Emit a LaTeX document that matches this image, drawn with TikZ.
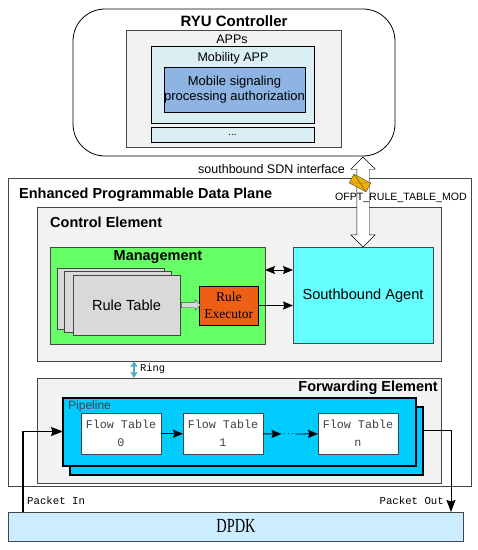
\documentclass[tikz,border=0pt]{standalone}
\usepackage{fontspec}
\setmainfont{Liberation Sans}
\setmonofont{Liberation Mono}
\newfontfamily\execfont{Liberation Serif}
\usepackage{tikz}
\usetikzlibrary{positioning,arrows.meta,calc,shapes.arrows}
\definecolor{appgray}{RGB}{242,242,242}
\definecolor{edgegray}{RGB}{70,70,70}
\definecolor{mobfill}{RGB}{218,238,243}
\definecolor{authfill}{RGB}{142,180,227}
\definecolor{mgmtgreen}{RGB}{102,255,102}
\definecolor{agentcyan}{RGB}{102,255,255}
\definecolor{rulegray}{RGB}{217,217,217}
\definecolor{execorange}{RGB}{236,95,20}
\definecolor{pipeblue}{RGB}{0,204,255}
\definecolor{dpdkblue}{RGB}{204,236,255}
\definecolor{ringblue}{RGB}{75,172,198}
\definecolor{mailgold}{RGB}{240,176,0}
\tikzset{
  boxbase/.style={draw=black, rectangle, anchor=north west, outer sep=0pt, inner sep=0pt},
  graybox/.style={boxbase, draw=edgegray, thick, fill=appgray},
  appbox/.style={boxbase, fill=mobfill},
  mgmtbox/.style={boxbase, draw=edgegray, fill=mgmtgreen},
  agentbox/.style={boxbase, draw=edgegray, fill=agentcyan, font=\fontsize{14.6}{16}\selectfont},
  rulebox/.style={boxbase, draw=edgegray, fill=rulegray},
  pipebox/.style={boxbase, line width=1.4pt, fill=pipeblue},
  flowbox/.style={boxbase, draw=edgegray, fill=white, align=center, text=black!75,
                  font=\ttfamily\fontsize{11.7}{18}\selectfont},
  title/.style={font=\bfseries\fontsize{14.5}{16}\selectfont, inner sep=0pt},
  lbl/.style={font=\fontsize{12.5}{15}\selectfont, inner sep=0pt, align=center},
  monolbl/.style={font=\ttfamily\fontsize{10.7}{12}\selectfont, inner sep=0pt},
  flow/.style={-{Stealth[length=10pt,width=8pt,inset=1.5pt]}, line width=0.9pt, black},
  bothflow/.style={{Stealth[length=10pt,width=8pt,inset=1.5pt]}-{Stealth[length=10pt,width=8pt,inset=1.5pt]}, line width=0.9pt, black},
  pkt/.style={-{Stealth[length=12pt,width=9pt,inset=1.5pt]}, line width=1.2pt, black}
}
\begin{document}
\begin{tikzpicture}[x=1pt,y=-1pt]
\useasboundingbox (0,0) rectangle (478,550);
% controller
\node (ctrl) [boxbase, rounded corners=32pt, line width=0.8pt, fill=white, minimum width=322pt, minimum height=147pt] at (73,9) {};
\node (ctrltitle) [title, font=\bfseries\fontsize{15}{17}\selectfont] at (234,21) {RYU Controller};
\node (apps) [graybox, minimum width=215pt, minimum height=117pt] at (126,30) {};
\node (appstxt) [lbl] at (232,39) {APPs};
\node (mobility) [appbox, minimum width=163pt, minimum height=77pt] at (151,46.5) {};
\node (mobtxt) [lbl] at (233,58) {Mobility APP};
\node (auth) [boxbase, fill=authfill, minimum width=141pt, minimum height=45pt, align=center, font=\fontsize{13}{15.5}\selectfont] at (164,67) {Mobile signaling\\processing authorization};
\node (more) [appbox, minimum width=163pt, minimum height=15pt, font=\fontsize{10}{12}\selectfont] at (151,127) {...};
% data plane
\node (plane) [boxbase, draw=edgegray, minimum width=463pt, minimum height=308pt] at (8,178) {};
\node (planetxt) [title, anchor=west] at (19,195) {Enhanced Programmable Data Plane};
\node (sbtxt) [lbl, anchor=east] at (345,169) {southbound SDN interface};
\node (control) [graybox, minimum width=403.5pt, minimum height=154pt] at (37.5,207) {};
\node (controltxt) [title, anchor=west] at (50,222) {Control Element};
\node (mgmt) [mgmtbox, minimum width=215pt, minimum height=97pt] at (50,247) {};
\node (mgmttxt) [title] at (158,257) {Management};
\node (rule3) [rulebox, minimum width=107pt, minimum height=61pt] at (57,268) {};
\node (rule2) [rulebox, minimum width=107pt, minimum height=61pt] at (64,271) {};
\node (rule1) [rulebox, minimum width=107pt, minimum height=60.5pt, font=\fontsize{14.6}{16}\selectfont] at (73,275) {Rule Table};
\node (exec) [boxbase, fill=execorange, minimum width=59.5pt, minimum height=39pt, align=center, font=\execfont\fontsize{13.5}{16.5}\selectfont] at (199,286) {Rule\\Executor};
\node (agent) [agentbox, minimum width=140pt, minimum height=96.5pt] at (293,247) {Southbound Agent};
\node (ruleto) [single arrow, draw=edgegray, fill=rulegray, inner xsep=0pt, inner ysep=2.5pt, outer sep=0pt, minimum height=19pt, single arrow head extend=2.5pt, single arrow head indent=0pt] at (189.5,305) {};
\draw[bothflow] (mgmt.east |- 0,270) -- (agent.west |- 0,270);
\draw[flow] (exec.east) -- (agent.west |- exec.east);
% forwarding
\node (fwd) [graybox, minimum width=403.5pt, minimum height=105pt] at (37.5,378) {};
\node (fwdtxt) [title, anchor=east] at (438,388) {Forwarding Element};
\draw[{Stealth[length=6pt,width=7pt,inset=1pt]}-{Stealth[length=6pt,width=7pt,inset=1pt]}, ringblue, line width=1.3pt] (control.south -| 134,0) -- (fwd.north -| 134,0);
\node (ringtxt) [monolbl, font=\ttfamily\fontsize{10.4}{12}\selectfont, anchor=west] at (140,369) {Ring};
\node (pipeback) [pipebox, minimum width=353pt, minimum height=68pt] at (70,407) {};
\node (pipe) [pipebox, minimum width=353pt, minimum height=68pt] at (63,398) {};
\node (pipetxt) [lbl, font=\fontsize{12}{14}\selectfont, anchor=west, text=black!75] at (68,406) {Pipeline};
\node (ft0) [flowbox, minimum width=80pt, minimum height=40.5pt] at (81,413.5) {Flow Table\\0};
\node (ft1) [flowbox, minimum width=80pt, minimum height=40.5pt] at (183,413.5) {Flow Table\\1};
\node (ftn) [flowbox, minimum width=80pt, minimum height=40.5pt] at (318,413.5) {Flow Table\\n};
\node (ftdots) [inner sep=1pt, font=\bfseries\fontsize{10}{12}\selectfont] at (288.5,434) {$\cdots$};
\draw[flow] (ft0) -- (ft1);
\draw[flow] (ft1) -- (ftdots);
\draw[flow] (ftdots) -- (ftn);
% dpdk
\node (dpdk) [boxbase, draw=edgegray, fill=dpdkblue, minimum width=455.5pt, minimum height=29.5pt] at (8,512) {};
\node (dpdktxt) [inner sep=0pt, xscale=0.72, font=\execfont\fontsize{20}{22}\selectfont] at (236,526) {DPDK};
\node (pkintxt) [monolbl, anchor=west] at (27,501) {Packet In};
\node (pkouttxt) [monolbl, anchor=east] at (444,501) {Packet Out};
\coordinate (pkin) at (23,512);
\coordinate (pkout) at (423,430);
\draw[pkt] (pkin) -- (23,431.5) -- (pipe.west |- 0,431.5);
\draw[pkt, line width=0.9pt] (pkout) -- (451,430) -- (dpdk.north -| 451,0);
% interface arrow and message
\node (iface) [double arrow, draw=black, fill=white, inner xsep=0pt, inner ysep=6pt, outer sep=0pt, rotate=90, minimum height=90pt, double arrow head extend=6pt, double arrow head indent=0pt] at (363,202) {};
\node (mail) [boxbase, anchor=center, draw=edgegray, fill=mailgold, minimum width=19pt, minimum height=10pt, rotate=-28] at (360,183) {};
\draw[edgegray, thin] (mail.north west) -- (mail.south east);
\draw[edgegray, thin] (mail.south west) -- (mail.north east);
\node (mod) [lbl, font=\fontsize{10.6}{13}\selectfont, anchor=east] at (467,197.5) {OFPT\_RULE\_TABLE\_MOD};
\end{tikzpicture}
\end{document}
